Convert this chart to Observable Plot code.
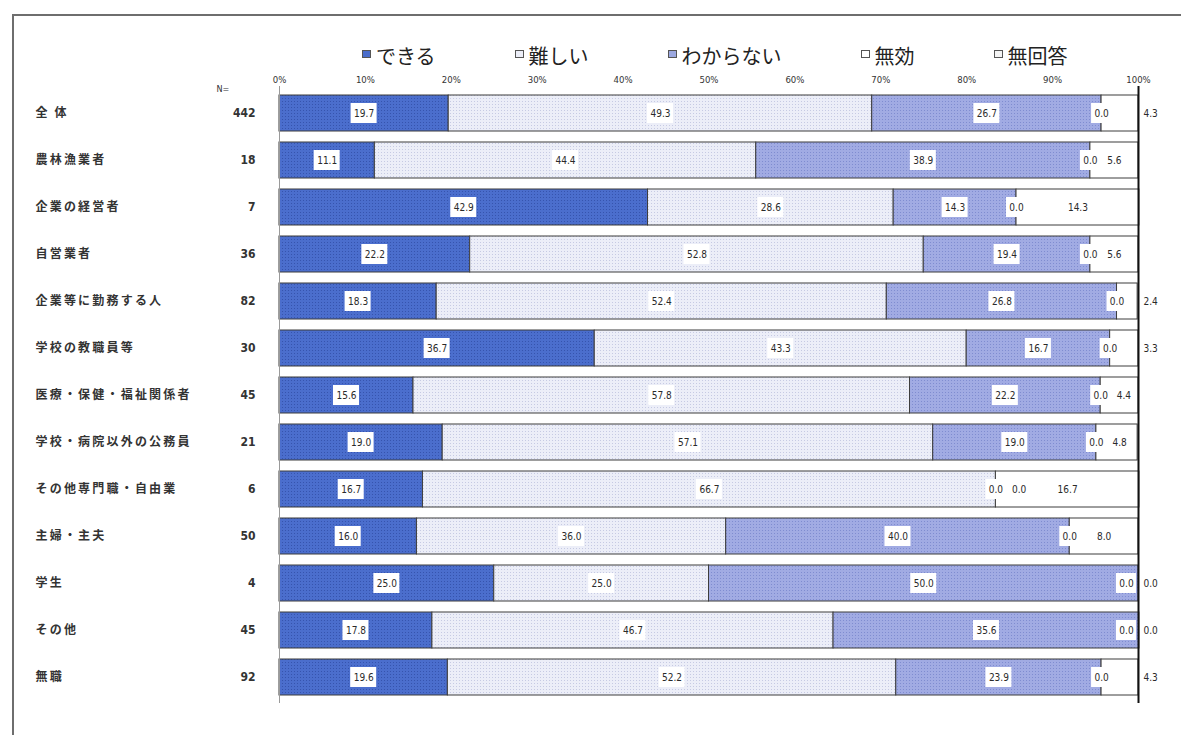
<!DOCTYPE html>
<html><head><meta charset="utf-8">
<script src="https://cdn.jsdelivr.net/npm/d3@7"></script>
<script src="https://cdn.jsdelivr.net/npm/@observablehq/plot@0.6"></script>
<style>
body{margin:0;background:#fff;width:1181px;height:735px;overflow:hidden;position:relative;font-family:"Noto Sans CJK JP",sans-serif;}
#frame{position:absolute;left:12px;top:14px;width:1200px;height:800px;border-top:2px solid #6e6e6e;border-left:2px solid #6e6e6e;pointer-events:none;z-index:2}
#legend{position:absolute;left:362px;top:44px;display:flex;gap:79px;font-size:20px;line-height:24px;color:#222;z-index:1}
.item{display:flex;align-items:flex-start;white-space:nowrap}
.sw{width:9px;height:8px;border:1px solid #555;margin:6px 5px 0 0;box-sizing:border-box}
#chart{position:absolute;left:0;top:68px}
</style></head>
<body>
<div id="frame"></div>
<div id="legend"></div>
<div id="chart"></div>
<script>
const categories = ["全 体","農林漁業者","企業の経営者","自営業者","企業等に勤務する人","学校の教職員等","医療・保健・福祉関係者","学校・病院以外の公務員","その他専門職・自由業","主婦・主夫","学生","その他","無職"];
const nValues = [442,18,7,36,82,30,45,21,6,50,4,45,92];
const seriesNames = ["できる","難しい","わからない","無効","無回答"];
const dekiru     = [19.7,11.1,42.9,22.2,18.3,36.7,15.6,19.0,16.7,16.0,25.0,17.8,19.6];
const muzukashii = [49.3,44.4,28.6,52.8,52.4,43.3,57.8,57.1,66.7,36.0,25.0,46.7,52.2];
const wakaranai  = [26.7,38.9,14.3,19.4,26.8,16.7,22.2,19.0,0.0,40.0,50.0,35.6,23.9];
const mukou      = [0.0,0.0,0.0,0.0,0.0,0.0,0.0,0.0,0.0,0.0,0.0,0.0,0.0];
const mukaitou   = [4.3,5.6,14.3,5.6,2.4,3.3,4.4,4.8,16.7,8.0,0.0,0.0,4.3];
const xTicks = [0,10,20,30,40,50,60,70,80,90,100];
const swatchColors = ["#4a6dcb","#eceef8","#9ca8e0","#ffffff","#f4f4f4"];

// legend (HTML)
const legend = document.getElementById("legend");
seriesNames.forEach((s,j)=>{
  const it = document.createElement("div"); it.className="item";
  const sw = document.createElement("span"); sw.className="sw"; sw.style.background = swatchColors[j];
  const tx = document.createElement("span"); tx.textContent = s;
  it.appendChild(sw); it.appendChild(tx); legend.appendChild(it);
});

const seriesValues = [dekiru, muzukashii, wakaranai, mukou, mukaitou];
const rows = [];
categories.forEach((c,i)=>seriesNames.forEach((s,j)=>rows.push({cat:c, series:s, value:seriesValues[j][i]})));

// value labels
const labels = [];
categories.forEach((c,i)=>{
  let cum = 0; const inRow = [];
  seriesNames.forEach((s,j)=>{
    const v = seriesValues[j][i]; const x0 = cum; cum += v;
    const text = v.toFixed(1);
    if (j === 4 && v < 4.35) labels.push({cat:c, x:100, text, outside:true});
    else inRow.push({cat:c, x:Math.min((x0+cum)/2, 98.6), text, outside:false});
  });
  for (let k=1;k<inRow.length;k++) if (inRow[k].x - inRow[k-1].x < 2.7) inRow[k].x = inRow[k-1].x + 2.7;
  labels.push(...inRow);
});
const inLabels = labels.filter(d=>!d.outside);
const outLabels = labels.filter(d=>d.outside);

const gridRows = [];
categories.forEach(c=>xTicks.slice(1,10).forEach(t=>gridRows.push({cat:c, x:t})));

const numFont = "'Liberation Sans Narrow','DejaVu Sans Condensed','Liberation Sans',sans-serif";

const plot = Plot.plot({
  width:1181, height:667,
  marginLeft:279, marginRight:43, marginTop:18, marginBottom:32,
  style:{background:"transparent", fontFamily:numFont, fontSize:"9.5px", color:"#333", overflow:"visible"},
  x:{domain:[0,100], axis:"top", ticks:10, tickFormat:d=>d+"%", tickSize:0, tickPadding:4, label:null},
  y:{domain:categories, axis:null, paddingInner:0.24, paddingOuter:0.12},
  color:{domain:seriesNames, range:["url(#pDekiru)","url(#pMuzu)","url(#pWaka)","#ffffff","#ffffff"]},
  marks:[
    Plot.barX(rows, Plot.stackX({x:"value", y:"cat", fill:"series", stroke:"#3d3d3d", strokeWidth:1})),
    Plot.ruleX(gridRows, {x:"x", y:"cat", stroke:"#6a70a0", strokeOpacity:0.28, strokeDasharray:"1,1"}),
    Plot.ruleX([0], {stroke:"#9a9a9a"}),
    Plot.ruleX([100], {stroke:"#111", strokeWidth:2}),
    Plot.barX(inLabels.filter(d=>d.text.length>=4), {x1:"x", x2:"x", y:"cat", fill:"white", insetLeft:-13, insetRight:-13, insetTop:8, insetBottom:8}),
    Plot.barX(inLabels.filter(d=>d.text.length<4), {x1:"x", x2:"x", y:"cat", fill:"white", insetLeft:-10, insetRight:-10, insetTop:8, insetBottom:8}),
    Plot.text(inLabels, {x:"x", y:"cat", text:"text", fontSize:10, fill:"#2a2a2a"}),
    Plot.text(outLabels, {x:"x", y:"cat", text:"text", fontSize:10, fill:"#2a2a2a", textAnchor:"start", dx:5}),
    Plot.text(categories, {y:d=>d, text:d=>d, frameAnchor:"left", textAnchor:"start", dx:-244, fontFamily:"'Noto Sans CJK JP',sans-serif", fontWeight:"bold", fontSize:12, fill:"#333"}),
    Plot.text(categories, {y:d=>d, text:(d,i)=>String(nValues[i]), frameAnchor:"left", textAnchor:"end", dx:-24, fontSize:12, fontWeight:"bold", fill:"#333"}),
    Plot.text(["N="], {frameAnchor:"top-left", text:d=>d, dx:-63, dy:-1, fontSize:9, fill:"#333"})
  ]
});

const defs = d3.select(plot).insert("defs", ":first-child");
[["pDekiru","#4b6ecd","#3654ae"],["pMuzu","#eceef8","#c6cae3"],["pWaka","#a1abe3","#7f8cd0"]].forEach(([id,base,dot])=>{
  const p = defs.append("pattern").attr("id",id).attr("width",3).attr("height",3).attr("patternUnits","userSpaceOnUse");
  p.append("rect").attr("width",3).attr("height",3).attr("fill",base);
  p.append("rect").attr("width",1).attr("height",1).attr("fill",dot);
});
const catSet = new Set(categories);
d3.select(plot).selectAll("text").filter(function(){ return catSet.has(this.textContent); })
  .attr("letter-spacing","2.2px").style("letter-spacing","2.2px");

document.getElementById("chart").appendChild(plot);
</script>
</body></html>
